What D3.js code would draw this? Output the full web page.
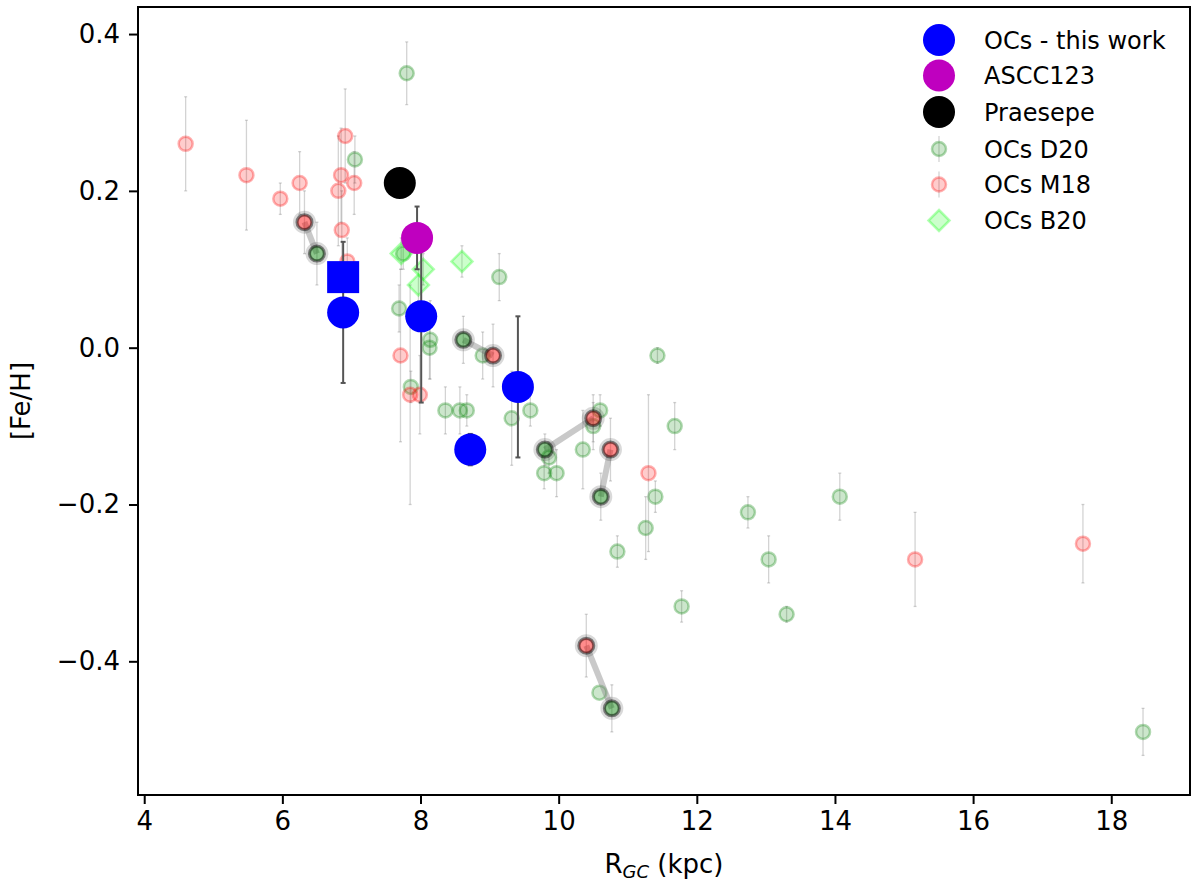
<!DOCTYPE html>
<html>
<head>
<meta charset="utf-8">
<script src="https://cdn.jsdelivr.net/npm/d3@7"></script>
<style>
  body { margin: 0; background: #fff; }
  svg { display: block; font-family: 'DejaVu Sans', sans-serif; }
</style>
</head>
<body>
<script>
var WIDTH = 1200, HEIGHT = 889;
var MARGIN = {top: 7, right: 10, bottom: 94, left: 138};

// OCs D20
var d20R  = [7.80, 7.05, 7.75, 7.69, 7.86, 8.14, 8.13, 8.36, 8.57, 8.67, 8.90, 9.14, 9.32, 9.59, 9.86, 9.79,
             9.97, 10.60, 10.50, 10.35, 11.43, 11.68, 11.40, 11.26, 10.85, 11.78, 12.74, 13.04, 14.07, 13.30, 18.46, 10.59];
var d20Fe = [0.35, 0.24, 0.12, 0.05, -0.05, 0.01, 0.00, -0.08, -0.08, -0.08, -0.01, 0.09, -0.09, -0.08, -0.14, -0.16,
             -0.16, -0.08, -0.10, -0.13, -0.01, -0.10, -0.19, -0.23, -0.26, -0.33, -0.21, -0.27, -0.19, -0.34, -0.49, -0.44];
var d20Err = [0.04, 0.03, 0.02, 0.03, 0.02, 0.05, 0.04, 0.03, 0.03, 0.02, 0.03, 0.03, 0.06, 0.02, 0.02, 0.02,
              0.03, 0.02, 0.03, 0.05, 0.01, 0.03, 0.02, 0.04, 0.02, 0.02, 0.02, 0.03, 0.03, 0.01, 0.03, 0.0];

// OCs M18
var m18R  = [4.60, 5.48, 5.97, 6.25, 6.91, 6.85, 6.81, 7.04, 6.86, 6.94, 7.71, 7.85, 7.99, 11.30, 15.16, 17.59];
var m18Fe = [0.26, 0.22, 0.19, 0.21, 0.27, 0.22, 0.20, 0.21, 0.15, 0.11, -0.01, -0.06, -0.06, -0.16, -0.27, -0.25];
var m18Err = [0.06, 0.07, 0.02, 0.04, 0.06, 0.06, 0.07, 0.04, 0.05, 0.03, 0.11, 0.14, 0.05, 0.10, 0.06, 0.05];

// OCs B20
var b20R  = [7.72, 8.04, 7.97, 8.60];
var b20Fe = [0.12, 0.10, 0.08, 0.11];
var b20Err = [0.02, 0.02, 0.02, 0.02];

// clusters in common between D20 and M18 (joined by a line)
var pairD20R  = [6.50, 8.62, 9.80, 10.61, 10.77];
var pairD20Fe = [0.12, 0.01, -0.13, -0.19, -0.46];
var pairD20Err = [0.04, 0.03, 0.02, 0.03, 0.03];
var pairM18R  = [6.32, 9.05, 10.50, 10.75, 10.40];
var pairM18Fe = [0.16, -0.01, -0.09, -0.13, -0.38];
var pairM18Err = [0.04, 0.04, 0.03, 0.04, 0.04];

// this work
var thisR  = [6.88, 8.01, 9.41, 8.72];
var thisFe = [0.045, 0.04, -0.05, -0.13];
var thisErr = [0.09, 0.11, 0.09, 0.02];
var squareR = [6.88], squareFe = [0.09];
var asccR = [7.95], asccFe = [0.14], asccErr = [0.04];
var praeR = [7.70], praeFe = [0.21];

var xTicks = [4, 6, 8, 10, 12, 14, 16, 18];
var yTicks = [-0.4, -0.2, 0.0, 0.2, 0.4];
var legendLabels = ['OCs - this work', 'ASCC123', 'Praesepe', 'OCs D20', 'OCs M18', 'OCs B20'];

function pts(xs, ys, es) {
    return xs.map(function (x, i) { return {x: x, y: ys[i], e: es ? es[i] : 0}; });
}

var svg = d3.select('body').append('svg').attr('width', WIDTH).attr('height', HEIGHT);

var x = d3.scaleLinear().domain([3.91, 19.14]).range([MARGIN.left, WIDTH - MARGIN.right]);
var y = d3.scaleLinear().domain([-0.5705, 0.4345]).range([HEIGHT - MARGIN.bottom, MARGIN.top]);

var plot = svg.append('g');

function errorBars(g, data, color, opacity, width, cap) {
    var eb = g.append('g').attr('stroke', color).attr('stroke-opacity', opacity).attr('stroke-width', width);
    data.filter(function (d) { return d.e > 0; }).forEach(function (d) {
        eb.append('line').attr('x1', x(d.x)).attr('x2', x(d.x)).attr('y1', y(d.y - d.e)).attr('y2', y(d.y + d.e));
        [d.y - d.e, d.y + d.e].forEach(function (v) {
            eb.append('line').attr('x1', x(d.x) - cap).attr('x2', x(d.x) + cap).attr('y1', y(v)).attr('y2', y(v));
        });
    });
}

function faintCircles(g, data, color) {
    g.append('g').selectAll('circle').data(data).enter().append('circle')
        .attr('cx', function (d) { return x(d.x); })
        .attr('cy', function (d) { return y(d.y); })
        .attr('r', 7)
        .attr('fill', color).attr('fill-opacity', 0.2)
        .attr('stroke', color).attr('stroke-opacity', 0.3).attr('stroke-width', 2.5);
}

var diamond = function (cx, cy, s) {
    return 'M' + cx + ',' + (cy - s) + 'L' + (cx + s) + ',' + cy + 'L' + cx + ',' + (cy + s) + 'L' + (cx - s) + ',' + cy + 'Z';
};

// D20
var d20 = pts(d20R, d20Fe, d20Err);
errorBars(plot, d20, '#808080', 0.35, 1.3, 1.5);
faintCircles(plot, d20, 'green');

// M18
var m18 = pts(m18R, m18Fe, m18Err);
errorBars(plot, m18, '#808080', 0.35, 1.3, 1.5);
faintCircles(plot, m18, 'red');

// B20
var b20 = pts(b20R, b20Fe, b20Err);
errorBars(plot, b20, '#808080', 0.35, 1.3, 1.5);
plot.append('g').selectAll('path').data(b20).enter().append('path')
    .attr('d', function (d) { return diamond(x(d.x), y(d.y), 10.5); })
    .attr('fill', 'lime').attr('fill-opacity', 0.2)
    .attr('stroke', 'lime').attr('stroke-opacity', 0.3).attr('stroke-width', 2.5);

// common clusters
var pD20 = pts(pairD20R, pairD20Fe, pairD20Err);
var pM18 = pts(pairM18R, pairM18Fe, pairM18Err);
errorBars(plot, pD20, '#808080', 0.35, 1.3, 1.5);
errorBars(plot, pM18, '#808080', 0.35, 1.3, 1.5);
plot.append('g').selectAll('line').data(pD20).enter().append('line')
    .attr('x1', function (d) { return x(d.x); })
    .attr('y1', function (d) { return y(d.y); })
    .attr('x2', function (d, i) { return x(pM18[i].x); })
    .attr('y2', function (d, i) { return y(pM18[i].y); })
    .attr('stroke', '#888').attr('stroke-opacity', 0.45).attr('stroke-width', 6);

function ringed(data, color) {
    var g = plot.append('g');
    g.selectAll('circle.halo').data(data).enter().append('circle')
        .attr('cx', function (d) { return x(d.x); })
        .attr('cy', function (d) { return y(d.y); })
        .attr('r', 8.5).attr('fill', 'none')
        .attr('stroke', '#000').attr('stroke-opacity', 0.15).attr('stroke-width', 6);
    g.selectAll('circle.core').data(data).enter().append('circle')
        .attr('cx', function (d) { return x(d.x); })
        .attr('cy', function (d) { return y(d.y); })
        .attr('r', 7.5)
        .attr('fill', color).attr('fill-opacity', 0.45)
        .attr('stroke', '#000').attr('stroke-opacity', 0.45).attr('stroke-width', 3);
}
ringed(pD20, 'green');
ringed(pM18, 'red');

// this work
var tw = pts(thisR, thisFe, thisErr);
errorBars(plot, tw, '#555', 1, 2, 2.5);
plot.append('g').selectAll('circle').data(tw).enter().append('circle')
    .attr('cx', function (d) { return x(d.x); })
    .attr('cy', function (d) { return y(d.y); })
    .attr('r', 16).attr('fill', 'blue');

plot.append('g').selectAll('rect').data(pts(squareR, squareFe)).enter().append('rect')
    .attr('x', function (d) { return x(d.x) - 16; })
    .attr('y', function (d) { return y(d.y) - 16; })
    .attr('width', 32).attr('height', 32).attr('fill', 'blue');

var ascc = pts(asccR, asccFe, asccErr);
errorBars(plot, ascc, '#555', 1, 2, 2.5);
plot.append('g').selectAll('circle').data(ascc).enter().append('circle')
    .attr('cx', function (d) { return x(d.x); })
    .attr('cy', function (d) { return y(d.y); })
    .attr('r', 16).attr('fill', '#bf00bf');

plot.append('g').selectAll('circle').data(pts(praeR, praeFe)).enter().append('circle')
    .attr('cx', function (d) { return x(d.x); })
    .attr('cy', function (d) { return y(d.y); })
    .attr('r', 16).attr('fill', 'black');

// axes
var xAxis = svg.append('g')
    .attr('transform', 'translate(0,' + (HEIGHT - MARGIN.bottom) + ')')
    .call(d3.axisBottom(x).tickValues(xTicks).tickSize(9).tickPadding(8).tickFormat(d3.format('d')));
var yAxis = svg.append('g')
    .attr('transform', 'translate(' + MARGIN.left + ',0)')
    .call(d3.axisLeft(y).tickValues(yTicks).tickSize(9).tickPadding(9)
        .tickFormat(function (d) { return (d < 0 ? '\u2212' : '') + Math.abs(d).toFixed(1); }));
[xAxis, yAxis].forEach(function (a) {
    a.select('.domain').remove();
    a.selectAll('.tick line').attr('stroke', '#000').attr('stroke-width', 2);
    a.selectAll('.tick text').attr('fill', '#000').style('font-size', '26px').style('font-family', 'DejaVu Sans');
});

svg.append('rect')
    .attr('x', MARGIN.left).attr('y', MARGIN.top)
    .attr('width', WIDTH - MARGIN.left - MARGIN.right)
    .attr('height', HEIGHT - MARGIN.top - MARGIN.bottom)
    .attr('fill', 'none').attr('stroke', '#000').attr('stroke-width', 2);

// axis labels
var xl = svg.append('text')
    .attr('x', (MARGIN.left + WIDTH - MARGIN.right) / 2).attr('y', 873)
    .attr('text-anchor', 'middle').style('font-size', '26px');
xl.append('tspan').text('R');
xl.append('tspan').attr('dy', 5).style('font-size', '18px').style('font-style', 'italic').text('GC');
xl.append('tspan').attr('dy', -5).text(' (kpc)');

svg.append('text')
    .attr('transform', 'translate(30,' + ((MARGIN.top + HEIGHT - MARGIN.bottom) / 2) + ') rotate(-90)')
    .attr('text-anchor', 'middle').style('font-size', '26px').text('[Fe/H]');

// legend
var LEG_X = 939, LEG_TX = 984;
var legY = [40, 75.5, 112, 149, 184.5, 220.5];
var legend = svg.append('g');
legend.append('circle').attr('cx', LEG_X).attr('cy', legY[0]).attr('r', 16).attr('fill', 'blue');
legend.append('circle').attr('cx', LEG_X).attr('cy', legY[1]).attr('r', 16).attr('fill', '#bf00bf');
legend.append('circle').attr('cx', LEG_X).attr('cy', legY[2]).attr('r', 16).attr('fill', 'black');
[['green', legY[3]], ['red', legY[4]]].forEach(function (c) {
    legend.append('line').attr('x1', LEG_X).attr('x2', LEG_X).attr('y1', c[1] - 13).attr('y2', c[1] + 13)
        .attr('stroke', '#808080').attr('stroke-opacity', 0.35).attr('stroke-width', 1.3);
    legend.append('circle').attr('cx', LEG_X).attr('cy', c[1]).attr('r', 7)
        .attr('fill', c[0]).attr('fill-opacity', 0.2)
        .attr('stroke', c[0]).attr('stroke-opacity', 0.3).attr('stroke-width', 2.5);
});
legend.append('path').attr('d', diamond(LEG_X, legY[5], 10.5))
    .attr('fill', 'lime').attr('fill-opacity', 0.2)
    .attr('stroke', 'lime').attr('stroke-opacity', 0.3).attr('stroke-width', 2.5);
legend.selectAll('text').data(legendLabels).enter().append('text')
    .attr('x', LEG_TX).attr('y', function (d, i) { return legY[i]; })
    .attr('dy', '0.36em').style('font-size', '24px').text(function (d) { return d; });
</script>
</body>
</html>
